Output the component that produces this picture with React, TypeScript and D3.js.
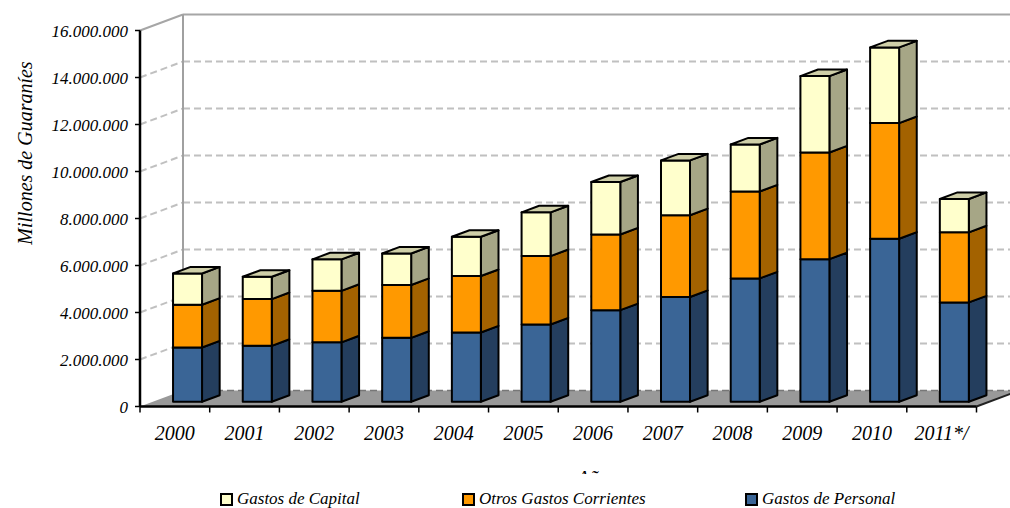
import React from "react";
import * as d3 from "d3";

const years = ["2000", "2001", "2002", "2003", "2004", "2005", "2006", "2007", "2008", "2009", "2010", "2011*/"];
const gastosPersonal = [2310000, 2380000, 2530000, 2720000, 2950000, 3290000, 3900000, 4460000, 5250000, 6070000, 6940000, 4230000];
const otrosGastosCorrientes = [1820000, 1990000, 2190000, 2250000, 2400000, 2910000, 3220000, 3480000, 3700000, 4540000, 4920000, 2980000];
const gastosCapital = [1330000, 950000, 1340000, 1340000, 1670000, 1860000, 2230000, 2330000, 2000000, 3250000, 3220000, 1420000];
const yTicks = [0, 2000000, 4000000, 6000000, 8000000, 10000000, 12000000, 14000000, 16000000];
const seriesKeys = ["Gastos de Personal", "Otros Gastos Corrientes", "Gastos de Capital"];
const legendItems = ["Gastos de Capital", "Otros Gastos Corrientes", "Gastos de Personal"];
const yTitle = "Millones de Guaraníes";
const xTitle = "Años";

const W = 1010, H = 508;
const X0 = 140, X1 = 976.5, Y0 = 406.5, Y1 = 30.5;
const DX = 43, DY = -16;
const F0 = 0.295, F1 = 0.705;
const FONT = '"Liberation Serif", "DejaVu Serif", serif';
const textStyle = { fontFamily: FONT, fontStyle: "italic" as const };

const colors: Record<string, { front: string; side: string; top: string }> = {
  "Gastos de Personal": { front: "#3A6596", side: "#243E5E", top: "#5B80AE" },
  "Otros Gastos Corrientes": { front: "#FF9900", side: "#A36200", top: "#FFB84D" },
  "Gastos de Capital": { front: "#FFFFCC", side: "#A6A686", top: "#CFCFA8" },
};

const fmt = d3.formatLocale({ decimal: ",", thousands: ".", grouping: [3], currency: ["", ""] }).format(",d");

export default function App() {
  const x = d3.scaleBand<string>().domain(years).range([X0, X1]).paddingInner(0).paddingOuter(0);
  const y = d3.scaleLinear().domain([0, 16000000]).range([Y0, Y1]);
  const rows = years.map((yr, i) => ({
    year: yr,
    "Gastos de Personal": gastosPersonal[i],
    "Otros Gastos Corrientes": otrosGastosCorrientes[i],
    "Gastos de Capital": gastosCapital[i],
  }));
  const stacked = d3.stack<any>().keys(seriesKeys)(rows);
  const bw = x.bandwidth() * 0.416;
  const ddx = DX * (F1 - F0), ddy = DY * (F1 - F0);
  const pts = (p: number[][]) => p.map((q) => q.join(",")).join(" ");

  const bars: JSX.Element[] = [];
  years.forEach((yr, i) => {
    const cx = (x(yr) as number) + x.bandwidth() / 2;
    const left = cx - bw / 2 + DX * F0;
    const right = cx + bw / 2 + DX * F0;
    stacked.forEach((s, si) => {
      const seg = s[i];
      const top = y(seg[1]) + DY * F0;
      const bot = y(seg[0]) + DY * F0;
      const c = colors[s.key];
      bars.push(
        <g key={yr + s.key} stroke="#000" strokeWidth={2} strokeLinejoin="round">
          <polygon fill={c.side} points={pts([[right, top], [right + ddx, top + ddy], [right + ddx, bot + ddy], [right, bot]])} />
          <rect x={left} y={top} width={right - left} height={bot - top} fill={c.front} />
          {si === stacked.length - 1 && (
            <polygon fill={c.top} points={pts([[left, top], [right, top], [right + ddx, top + ddy], [left + ddx, top + ddy]])} />
          )}
        </g>
      );
    });
  });

  const bandEdges = years.map((yr) => x(yr) as number).concat([X1]);

  return (
    <svg width={W} height={H} style={{ position: "absolute", left: 0, top: 0, background: "#fff" }}>
      <defs>
        <clipPath id="xtitleClip">
          <rect x={0} y={0} width={W} height={474} />
        </clipPath>
      </defs>
      {/* back wall grid */}
      {yTicks.map((v) => (
        <g key={"g" + v}>
          {v === 16000000 ? (
            <>
              <line x1={X0 + DX} x2={W + 20} y1={y(v) + DY} y2={y(v) + DY} stroke="#A6A6A6" strokeWidth={2} />
              <line x1={X0} x2={X0 + DX} y1={y(v)} y2={y(v) + DY} stroke="#A6A6A6" strokeWidth={2} />
            </>
          ) : v === 0 ? null : (
            <>
              <line x1={X0 + DX} x2={W + 20} y1={y(v) + DY} y2={y(v) + DY} stroke="#C0C0C0" strokeWidth={2} strokeDasharray="7 4" />
              <line x1={X0} x2={X0 + DX} y1={y(v)} y2={y(v) + DY} stroke="#C0C0C0" strokeWidth={2} strokeDasharray="7 4" />
            </>
          )}
        </g>
      ))}
      <line x1={X0 + DX} x2={X0 + DX} y1={Y1 + DY} y2={Y0 + DY} stroke="#A0A0A0" strokeWidth={2} />
      {/* floor */}
      <polygon fill="#999999" points={pts([[X0, Y0], [X1, Y0], [X1 + DX, Y0 + DY], [X0 + DX, Y0 + DY]])} />
      <line x1={X0 + DX} x2={X1 + DX} y1={Y0 + DY} y2={Y0 + DY} stroke="#777" strokeWidth={1.5} strokeDasharray="7 4" />
      <line x1={X1} x2={X1 + DX} y1={Y0} y2={Y0 + DY} stroke="#222" strokeWidth={2} />
      {bars}
      {/* front axes */}
      <line x1={X0} x2={X1} y1={Y0} y2={Y0} stroke="#000" strokeWidth={2.5} />
      <line x1={X0} x2={X0} y1={Y1} y2={Y0} stroke="#000" strokeWidth={2.5} />
      {yTicks.map((v) => (
        <g key={"t" + v}>
          <line x1={X0 - 5} x2={X0} y1={y(v)} y2={y(v)} stroke="#000" strokeWidth={1.5} />
          <text x={128} y={y(v)} dy="0.36em" textAnchor="end" fontSize={17} style={textStyle} fill="#000">
            {fmt(v)}
          </text>
        </g>
      ))}
      {bandEdges.map((e, i) => (
        <line key={"xt" + i} x1={e} x2={e} y1={Y0} y2={Y0 + 6} stroke="#000" strokeWidth={1.5} />
      ))}
      {years.map((yr) => (
        <text key={"xl" + yr} x={(x(yr) as number) + x.bandwidth() / 2} y={440} textAnchor="middle" fontSize={20} style={textStyle} fill="#000">
          {yr}
        </text>
      ))}
      <text transform="translate(32,153) rotate(-90)" textAnchor="middle" fontSize={20} style={textStyle} fill="#000">
        {yTitle}
      </text>
      <g clipPath="url(#xtitleClip)">
        <text x={597} y={485} textAnchor="middle" fontSize={20} style={textStyle} fill="#000">
          {xTitle}
        </text>
      </g>
      {/* legend */}
      {legendItems.map((k, i) => {
        const lx = [221, 463, 746][i];
        return (
          <g key={"lg" + k}>
            <rect x={lx} y={494} width={11} height={11} fill={colors[k].front} stroke="#000" strokeWidth={2} />
            <text x={lx + 16} y={504} fontSize={17} style={textStyle} fill="#000">
              {k}
            </text>
          </g>
        );
      })}
    </svg>
  );
}
